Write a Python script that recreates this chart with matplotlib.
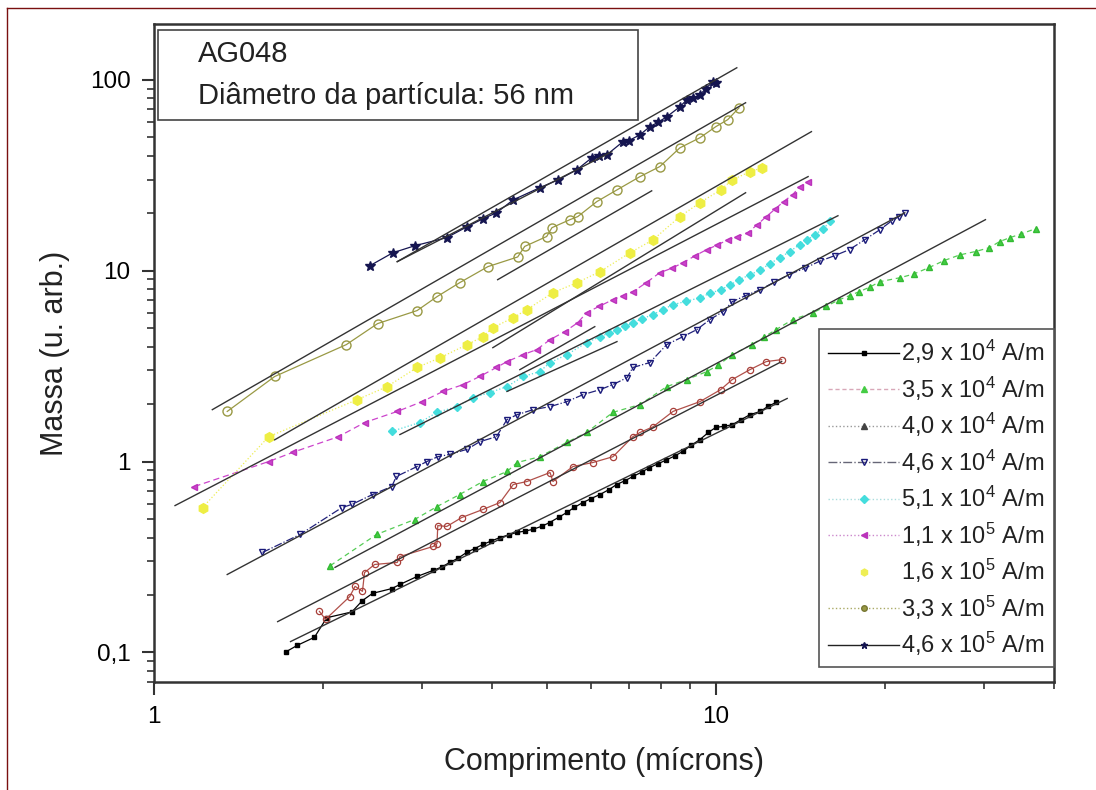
import matplotlib
matplotlib.use("Agg")
import matplotlib.pyplot as plt
from matplotlib.lines import Line2D
from matplotlib.patches import Rectangle
from matplotlib.ticker import LogLocator, FixedLocator, NullFormatter, FixedFormatter

plt.rcParams['font.family'] = ['Liberation Sans', 'DejaVu Sans']
plt.rcParams['mathtext.fontset'] = 'custom'
plt.rcParams['mathtext.rm'] = 'Liberation Sans'
plt.rcParams['mathtext.it'] = 'Liberation Sans'

# ---------------- data ----------------
labels = ["2,9 x 10$^4$ A/m", "3,5 x 10$^4$ A/m", "4,0 x 10$^4$ A/m", "4,6 x 10$^4$ A/m",
          "5,1 x 10$^4$ A/m", "1,1 x 10$^5$ A/m", "1,6 x 10$^5$ A/m", "3,3 x 10$^5$ A/m",
          "4,6 x 10$^5$ A/m"]

black_x = [1.72, 1.80, 1.93, 2.03, 2.25, 2.35, 2.45, 2.65, 2.74, 2.94, 3.14, 3.25, 3.36, 3.48,
           3.60, 3.72, 3.85, 3.98, 4.13, 4.28, 4.42, 4.57, 4.72, 4.90, 5.06, 5.25, 5.43, 5.60,
           5.80, 6.00, 6.22, 6.45, 6.66, 6.90, 7.12, 7.38, 7.62, 7.90, 8.17, 8.45, 8.74, 9.05,
           9.36, 9.70, 10.0, 10.35, 10.7, 11.1, 11.5, 12.0, 12.4, 12.8]
black_y = [0.101, 0.109, 0.120, 0.152, 0.163, 0.187, 0.204, 0.216, 0.227, 0.250, 0.269, 0.280,
           0.296, 0.312, 0.334, 0.350, 0.368, 0.383, 0.400, 0.413, 0.425, 0.432, 0.441, 0.458,
           0.479, 0.510, 0.541, 0.575, 0.610, 0.640, 0.672, 0.712, 0.758, 0.795, 0.835, 0.880,
           0.930, 0.975, 1.02, 1.07, 1.13, 1.22, 1.30, 1.42, 1.51, 1.53, 1.56, 1.66, 1.76, 1.83,
           1.95, 2.04]

green_x = [2.06, 2.49, 2.91, 3.19, 3.50, 3.85, 4.25, 4.43, 4.86, 5.43, 5.89, 6.56, 7.33, 8.18,
           8.88, 9.64, 10.1, 10.7, 11.6, 12.2, 12.8, 13.7, 14.9, 15.7, 16.6, 17.3, 18.0, 18.8,
           19.6, 21.3, 22.5, 24.0, 25.5, 27.2, 29.0, 30.7, 32.0, 33.4, 35.0, 37.1]
green_y = [0.285, 0.415, 0.497, 0.581, 0.672, 0.786, 0.887, 0.988, 1.06, 1.26, 1.42, 1.81,
           1.99, 2.47, 2.69, 2.96, 3.20, 3.63, 4.10, 4.50, 4.91, 5.54, 6.03, 6.50, 7.05, 7.40,
           7.76, 8.20, 8.76, 9.19, 9.60, 10.4, 11.3, 12.1, 12.6, 13.2, 14.2, 14.9, 15.6, 16.6]

brown_x = [1.97, 2.02, 2.23, 2.28, 2.35, 2.37, 2.47, 2.71, 2.74, 3.14, 3.19, 3.20, 3.32, 3.53,
           3.85, 4.13, 4.36, 4.61, 5.07, 5.13, 5.57, 6.04, 6.56, 7.12, 7.33, 7.73, 8.39, 9.37,
           10.2, 10.7, 11.5, 12.3, 13.1]
brown_y = [0.164, 0.149, 0.196, 0.222, 0.209, 0.262, 0.289, 0.296, 0.318, 0.359, 0.372, 0.462,
           0.457, 0.509, 0.561, 0.610, 0.758, 0.786, 0.876, 0.786, 0.942, 0.988, 1.06, 1.35,
           1.42, 1.52, 1.83, 2.06, 2.38, 2.69, 3.03, 3.34, 3.42]

navy_x = [1.56, 1.82, 2.16, 2.25, 2.45, 2.65, 2.70, 2.94, 3.06, 3.20, 3.36, 3.61, 3.80, 4.07,
          4.25, 4.43, 4.73, 5.07, 5.43, 5.80, 6.22, 6.56, 6.95, 7.12, 7.63, 8.18, 8.74, 9.25,
          9.76, 10.3, 10.7, 11.3, 12.0, 12.7, 13.5, 14.4, 15.3, 16.3, 17.3, 18.4, 19.6, 20.6,
          21.2, 21.7]
navy_y = [0.334, 0.415, 0.574, 0.596, 0.672, 0.740, 0.835, 0.942, 1.00, 1.06, 1.09, 1.16,
          1.27, 1.35, 1.66, 1.76, 1.87, 1.94, 2.06, 2.24, 2.38, 2.53, 2.75, 3.11, 3.30, 4.10,
          4.51, 4.91, 5.54, 6.10, 6.88, 7.40, 7.95, 8.70, 9.53, 10.3, 11.2, 12.0, 12.9, 14.5,
          16.4, 18.3, 19.2, 20.1]

cyan_x = [2.65, 2.97, 3.19, 3.46, 3.70, 3.96, 4.25, 4.54, 4.86, 5.07, 5.43, 5.89, 6.22, 6.45,
          6.67, 6.90, 7.12, 7.40, 7.73, 8.05, 8.39, 8.85, 9.37, 9.75, 10.2, 10.6, 11.0, 11.5,
          12.0, 12.5, 13.0, 13.55, 14.1, 14.55, 15.0, 15.5, 16.0]
cyan_y = [1.44, 1.60, 1.81, 1.94, 2.16, 2.30, 2.47, 2.79, 2.96, 3.30, 3.63, 4.20, 4.51, 4.70,
          4.91, 5.10, 5.34, 5.60, 5.89, 6.25, 6.64, 6.90, 7.22, 7.60, 7.95, 8.40, 8.97, 9.50,
          10.1, 10.9, 11.7, 12.6, 13.7, 14.5, 15.4, 16.5, 18.1]

magenta_x = [1.18, 1.60, 1.77, 2.13, 2.37, 2.71, 3.00, 3.27, 3.55, 3.80, 4.07, 4.25, 4.54,
             4.80, 5.07, 5.39, 5.68, 5.89, 6.20, 6.56, 6.85, 7.12, 7.50, 7.95, 8.35, 8.74,
             9.20, 9.64, 10.05, 10.5, 10.9, 11.4, 11.85, 12.3, 12.75, 13.2, 13.7, 14.1, 14.6]
magenta_y = [0.740, 1.00, 1.12, 1.35, 1.60, 1.83, 2.06, 2.33, 2.53, 2.79, 3.11, 3.34, 3.63,
             3.86, 4.35, 4.80, 5.34, 6.03, 6.50, 7.05, 7.40, 7.76, 8.60, 9.76, 10.3, 11.0,
             12.0, 12.9, 13.6, 14.5, 15.0, 15.8, 17.4, 19.2, 21.0, 23.0, 25.0, 27.5, 29.2]

yellow_x = [1.22, 1.60, 2.30, 2.60, 2.94, 3.23, 3.61, 3.85, 4.01, 4.36, 4.61, 5.13, 5.66,
            6.22, 7.03, 7.73, 8.63, 9.37, 10.2, 10.7, 11.5, 12.1]
yellow_y = [0.574, 1.35, 2.11, 2.47, 3.11, 3.50, 4.10, 4.51, 5.03, 5.67, 6.25, 7.67, 8.65,
            9.88, 12.4, 14.5, 19.2, 22.7, 26.5, 29.9, 33.0, 34.6]

olive_x = [1.35, 1.64, 2.20, 2.50, 2.94, 3.19, 3.50, 3.93, 4.44, 4.57, 5.00, 5.11, 5.50, 5.68,
           6.14, 6.67, 7.33, 7.95, 8.63, 9.37, 10.0, 10.5, 11.0]
olive_y = [1.83, 2.79, 4.10, 5.28, 6.18, 7.31, 8.65, 10.5, 11.8, 13.4, 15.1, 16.8, 18.5, 19.2,
           23.0, 26.5, 31.1, 35.1, 44.0, 49.7, 56.8, 61.8, 71.3]

star_x = [2.42, 2.66, 2.91, 3.32, 3.61, 3.85, 4.07, 4.36, 4.86, 5.24, 5.66, 6.02, 6.20, 6.40,
          6.83, 7.00, 7.33, 7.63, 7.90, 8.18, 8.63, 8.88, 9.10, 9.37, 9.60, 9.88, 10.0]
star_y = [10.6, 12.4, 13.5, 14.9, 17.0, 18.7, 20.1, 23.5, 27.2, 29.9, 33.8, 39.1, 40.0, 40.5,
          47.3, 48.0, 51.5, 56.8, 60.0, 64.0, 72.2, 78.6, 80.0, 83.4, 90.0, 97.7, 96.4]

# fitted straight lines (x1, x2), (y1, y2)
fit_x = [(1.75, 13.4), (1.66, 13.1), (2.10, 30.2), (1.35, 21.7), (2.74, 16.5), (1.09, 14.6),
         (1.64, 14.8), (1.27, 11.3), (2.71, 10.9),
         (2.71, 6.53), (4.09, 7.69), (4.01, 11.3), (4.48, 6.09), (4.25, 6.67)]
fit_y = [(0.114, 2.14), (0.145, 3.34), (0.279, 18.5), (0.256, 20.1), (1.385, 19.4), (0.588, 31.1),
         (1.30, 53.5), (1.87, 75.8), (11.15, 115.6),
         (11.15, 42.0), (8.97, 26.2), (3.95, 25.6), (3.03, 5.09), (2.33, 4.25)]

# ---------------- figure ----------------
fig = plt.figure(figsize=(10.96, 7.90), dpi=100)
ax = fig.add_axes([154/1096, 1-682/790, 900/1096, 658/790])

lw = 0.9
ax.plot(black_x, black_y, color='black', ls='-', lw=lw, marker='s', ms=3, mfc='black', mec='black')
ax.plot(brown_x, brown_y, color='#b0504a', ls='-', lw=lw, marker='o', ms=4.5, mfc='none', mec='#a8403a', mew=0.9)
ax.plot(green_x, green_y, color='#55cc55', ls=(0, (4, 3)), lw=lw, marker='^', ms=5, mfc='#44cc44', mec='#33bb33')
ax.plot(navy_x, navy_y, color='#22227a', ls='-.', lw=lw, marker='v', ms=5, mfc='none', mec='#1a1a7a', mew=1.0)
ax.plot(cyan_x, cyan_y, color='#55dddd', ls=':', lw=lw, marker='D', ms=4.5, mfc='#44dddd', mec='#44dddd')
ax.plot(magenta_x, magenta_y, color='#cc44cc', ls=(0, (5, 3)), lw=lw, marker='<', ms=5, mfc='#cc44cc', mec='#bb33bb')
ax.plot(yellow_x, yellow_y, color='#eeee55', ls=':', lw=lw, marker='h', ms=7, mfc='#eeee44', mec='#eeee44')
ax.plot(olive_x, olive_y, color='#999944', ls='-', lw=lw, marker='o', ms=6.5, mfc='none', mec='#999944', mew=1.0)
ax.plot(star_x, star_y, color='#151550', ls='-', lw=lw, marker='*', ms=7, mfc='#151550', mec='#151550')

for fx, fy in zip(fit_x, fit_y):
    ax.plot(fx, fy, color='#333333', lw=1.0)

ax.set_xscale('log')
ax.set_yscale('log')
ax.set_xlim(1, 40)
ax.set_ylim(0.07, 196)

ax.xaxis.set_major_locator(FixedLocator([1, 10]))
ax.xaxis.set_major_formatter(FixedFormatter(['1', '10']))
ax.xaxis.set_minor_locator(FixedLocator([2, 3, 4, 5, 6, 7, 8, 9, 20, 30, 40]))
ax.xaxis.set_minor_formatter(NullFormatter())
ax.yaxis.set_major_locator(FixedLocator([0.1, 1, 10, 100]))
ax.yaxis.set_major_formatter(FixedFormatter(['0,1', '1', '10', '100']))
ax.yaxis.set_minor_locator(LogLocator(base=10, subs=[2, 3, 4, 5, 6, 7, 8, 9]))
ax.yaxis.set_minor_formatter(NullFormatter())

ax.tick_params(which='major', length=9, width=1.5, labelsize=17.5, pad=8, color='#333333')
ax.tick_params(which='minor', length=5, width=1.2, color='#333333')
for s in ax.spines.values():
    s.set_linewidth(1.8)
    s.set_color('#333333')

ax.set_xlabel('Comprimento (mícrons)', fontsize=22, labelpad=14, color='#222222')
ax.set_ylabel('Massa (u. arb.)', fontsize=22, labelpad=14, color='#222222')

# info box
ax.add_patch(Rectangle((0.0045, 0.854), 0.533, 0.137, transform=ax.transAxes, fill=False,
                       ec='#444444', lw=1.2, zorder=5))
ax.text(0.049, 0.955, 'AG048', transform=ax.transAxes, fontsize=21, va='center', ha='left', color='#222222')
ax.text(0.049, 0.891, 'Diâmetro da partícula: 56 nm', transform=ax.transAxes, fontsize=21,
        va='center', ha='left', color='#222222')

# legend
handles = [
    Line2D([], [], color='black', ls='-', lw=1, marker='s', ms=3, mfc='black', mec='black'),
    Line2D([], [], color='#d8a8b8', ls=(0, (3, 2)), lw=1, marker='^', ms=5, mfc='#44cc44', mec='#44cc44'),
    Line2D([], [], color='#999999', ls=':', lw=1, marker='^', ms=4, mfc='#444444', mec='#444444'),
    Line2D([], [], color='#666677', ls='-.', lw=1, marker='v', ms=4, mfc='none', mec='#1a1a7a'),
    Line2D([], [], color='#aadddd', ls=':', lw=1, marker='D', ms=4, mfc='#44dddd', mec='#44dddd'),
    Line2D([], [], color='#cc88cc', ls=':', lw=1, marker='<', ms=5, mfc='#bb33bb', mec='#bb33bb'),
    Line2D([], [], color='none', ls='none', marker='h', ms=5, mfc='#eeee55', mec='#eeee55'),
    Line2D([], [], color='#aaaa66', ls=':', lw=1, marker='o', ms=4, mfc='#999944', mec='#777733'),
    Line2D([], [], color='#222222', ls='-', lw=1, marker='*', ms=5, mfc='#151550', mec='#151550'),
]
leg = ax.legend(handles, labels, loc='upper right', bbox_to_anchor=(1.0, 0.537), borderaxespad=0,
                fontsize=17, frameon=True, fancybox=False, edgecolor='#555555', framealpha=1,
                handlelength=3.0, handletextpad=0.1, labelspacing=0.35, borderpad=0.4,
                markerscale=1.0)
leg.get_frame().set_linewidth(1.2)
for t in leg.get_texts():
    t.set_color('#222222')

# outer border (dark red)
fig.add_artist(Line2D([7/1096, 7/1096], [0, 1-8/790], color='#7a1010', lw=1.0, transform=fig.transFigure))
fig.add_artist(Line2D([7/1096, 1], [1-8/790, 1-8/790], color='#7a1010', lw=1.0, transform=fig.transFigure))

fig.savefig('out.png', dpi=100, facecolor='white')
